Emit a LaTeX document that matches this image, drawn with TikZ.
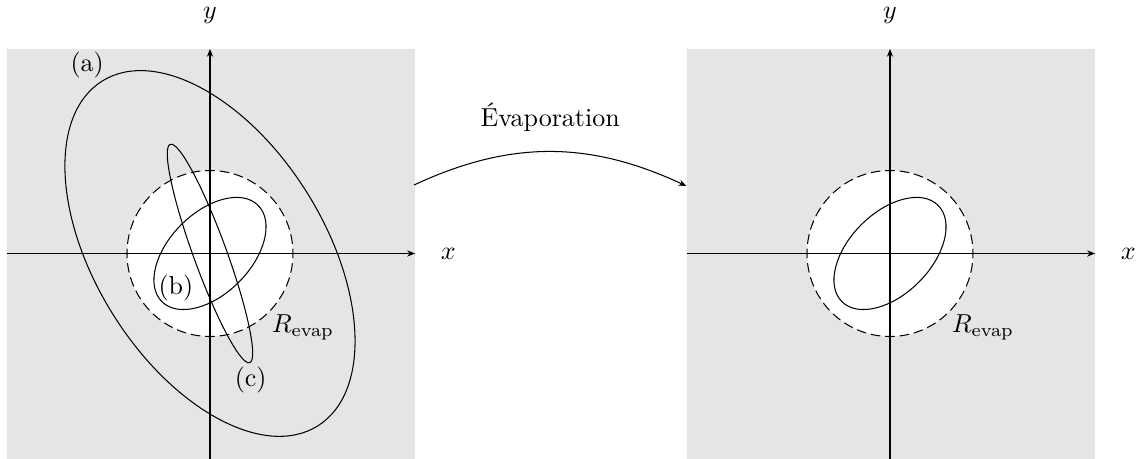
\documentclass[tikz,border=0pt]{standalone}
\usetikzlibrary{arrows.meta, positioning}
\definecolor{panelgray}{RGB}{229, 229, 229}

\begin{document}
\begin{tikzpicture}[
  x=1.122cm, y=1.122cm,
  axis/.style={-{Stealth[length=3pt, width=2.4pt]}},
  evapdisk/.style={fill=white, draw, dash pattern=on 3.714pt off 1.857pt, dash phase=1.857pt},
  tag/.style={inner sep=1pt}
]
  \useasboundingbox (-2.530,-2.476) rectangle (11.157,3.054);

  % avant
  \begin{scope}
    \fill[panelgray] (-2.446,-2.476) rectangle (2.47,2.464);
    \draw[evapdisk] (0,0) circle (1);
    \draw[axis] (-2.446,0) -- (2.47,0);
    \draw[axis] (0,-2.476) -- (0,2.464);
    \draw[rotate=-58] (0,0) ellipse (2.45 and 1.38);
    \draw[rotate=45] (0,0) ellipse (0.82 and 0.49);
    \draw[rotate=110] (0,0) ellipse (1.40 and 0.2);
    \node (xleft) at (2.87,0) {$x$};
    \node (yleft) at (0,2.873) {$y$};
    \node[tag] (tagA) at (-1.48,2.27) {(a)};
    \node[tag] (tagB) at (-0.41,-0.41) {(b)};
    \node[tag] (tagC) at (0.49,-1.53) {(c)};
    \node[tag] (rleft) at (1.12,-0.886) {$R_{\mathrm{evap}}$};
  \end{scope}

  % apres
  \begin{scope}[shift={(8.193,0)}]
    \fill[panelgray] (-2.446,-2.476) rectangle (2.47,2.464);
    \draw[evapdisk] (0,0) circle (1);
    \draw[axis] (-2.446,0) -- (2.47,0);
    \draw[axis] (0,-2.476) -- (0,2.464);
    \draw[rotate=45] (0,0) ellipse (0.82 and 0.49);
    \node (xright) at (2.87,0) {$x$};
    \node (yright) at (0,2.873) {$y$};
    \node[tag] (rright) at (1.12,-0.886) {$R_{\mathrm{evap}}$};
  \end{scope}

  \coordinate (evapfrom) at (2.458,0.825);
  \coordinate (evapto) at (5.74,0.813);
  \draw[-{Stealth[length=3pt, width=2.4pt]}] (evapfrom) to[out=25, in=155]
    node[above=4.3pt] (evaplabel) {Évaporation} (evapto);
\end{tikzpicture}
\end{document}
